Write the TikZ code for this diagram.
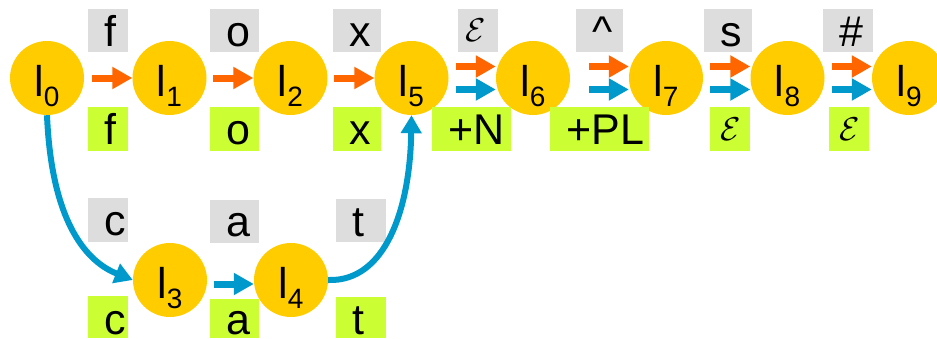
\documentclass[tikz,border=0pt]{standalone}
\usepackage{fontspec}
\setmainfont{Liberation Sans}
\usepackage{graphicx}
\usetikzlibrary{arrows.meta}
\definecolor{stateyellow}{HTML}{FFCC00}
\definecolor{lexgrey}{HTML}{DDDDDD}
\definecolor{surfgreen}{HTML}{CCFF33}
\definecolor{arrorange}{HTML}{FF6600}
\definecolor{arrblue}{HTML}{0099CC}
% state label: l with a lowered index
\newcommand{\st}[1]{\fontsize{43}{43}\selectfont l\raisebox{-10pt}{\fontsize{28}{28}\selectfont #1}}
% empty-string symbol
\newcommand{\eps}{\scalebox{3.3}{$\mathcal{E}$}}
% tape cell: #1 style, #2 name, #3 left, #4 top, #5 width, #6 height, #7 baseline, #8 text
\newcommand{\tapecell}[8]{%
  \node[#1,minimum width=#5pt,minimum height=#6pt,anchor=north west] (#2) at (#3,#4) {};
  \path (#2.north west) ++(16.5,#7-#4) node[symtext] {#8};}
% tape cell holding the empty-string symbol, centred
\newcommand{\epscell}[7]{%
  \node[#1,minimum width=#5pt,minimum height=#6pt,anchor=north west] (#2) at (#3,#4) {};
  \node[inner sep=0pt] at ([xshift=#7pt]#2.center) {\eps};}
\tikzset{
  state/.style={circle,fill=stateyellow,minimum size=74pt,inner sep=0pt},
  statetext/.style={inner sep=0pt},
  cell/.style={rectangle,inner sep=0pt},
  upper/.style={cell,fill=lexgrey},
  lower/.style={cell,fill=surfgreen},
  symtext/.style={inner sep=0pt,anchor=base west,font=\fontsize{43}{43}\selectfont},
  blockarrow/.style={line width=7pt,-{Triangle[length=20pt,width=21pt]}},
  orangearrow/.style={blockarrow,arrorange},
  bluearrow/.style={blockarrow,arrblue},
  curvearrow/.style={line width=6pt,arrblue,-{Triangle[length=18pt,width=20pt]}}
}
\begin{document}
\begin{tikzpicture}[x=1pt,y=-1pt]
\useasboundingbox (0,0) rectangle (937,338);

% states
\foreach \n/\x/\y in {0/47/78,1/169.5/78,2/290.5/78,5/411.5/78,6/533/78,7/666/78,8/787.5/78,9/909/78,3/170/280,4/291/280}{
  \node[state] (l\n) at (\x,\y) {};
  \node[statetext] at ([yshift=-8pt]l\n.center) {\st{\n}};
}

% upper tape, main path
\tapecell{upper}{uf}{88}{9}{40}{43}{46}{f}
\tapecell{upper}{uo}{210}{9}{49}{43}{46}{o}
\tapecell{upper}{ux}{333}{9}{48}{43}{46}{x}
\epscell{upper}{ue}{458}{9}{40}{43}{-3}
\tapecell{upper}{uc}{576}{9}{47}{43}{46}{\textasciicircum}
\tapecell{upper}{us}{704}{9}{48}{43}{46}{s}
\tapecell{upper}{uh}{823}{9}{50}{43}{46}{\#}

% lower tape, main path
\tapecell{lower}{lf}{88}{107}{40}{44}{144.5}{f}
\tapecell{lower}{lo}{210}{107}{49}{44}{144.5}{o}
\tapecell{lower}{lx}{333}{107}{48}{44}{144.5}{x}
\tapecell{lower}{ln}{432}{107}{79}{44}{144.5}{+N}
\tapecell{lower}{lp}{550}{107}{99}{44}{144.5}{+PL}
\epscell{lower}{ls}{710}{107}{40}{44}{0}
\epscell{lower}{lh}{829}{107}{40}{44}{0}

% tapes of the lower branch
\tapecell{upper}{uc2}{88}{198}{40}{44}{235}{c}
\tapecell{upper}{ua2}{210}{200}{49}{43}{236.5}{a}
\tapecell{upper}{ut2}{336}{199}{50}{43}{236.5}{t}
\tapecell{lower}{lc2}{88}{296}{40}{42}{334}{c}
\tapecell{lower}{la2}{210}{299}{49}{39}{334}{a}
\tapecell{lower}{lt2}{336}{297}{50}{41}{334}{t}

% single transitions
\draw[orangearrow] ([xshift=-40pt]l1.west) -- (l1.west);
\draw[orangearrow] ([xshift=-40pt]l2.west) -- (l2.west);
\draw[orangearrow] ([xshift=-40pt]l5.west) -- (l5.west);
\draw[bluearrow] ([xshift=-40pt,yshift=-4pt]l4.west) -- ([yshift=-4pt]l4.west);

% paired transitions
\foreach \t in {6,7,8,9}{
  \draw[orangearrow] ([xshift=-40pt,yshift=11.5pt]l\t.west) -- ([yshift=11.5pt]l\t.west);
  \draw[bluearrow] ([xshift=-40pt,yshift=-11.5pt]l\t.west) -- ([yshift=-11.5pt]l\t.west);
}

% branch curves
\draw[curvearrow] (l0.south) .. controls (52,235) and (95,265) .. (l3.west);
\draw[curvearrow] (l4.east) .. controls (385,282) and (410,210) .. (l5.south);
\end{tikzpicture}
\end{document}
